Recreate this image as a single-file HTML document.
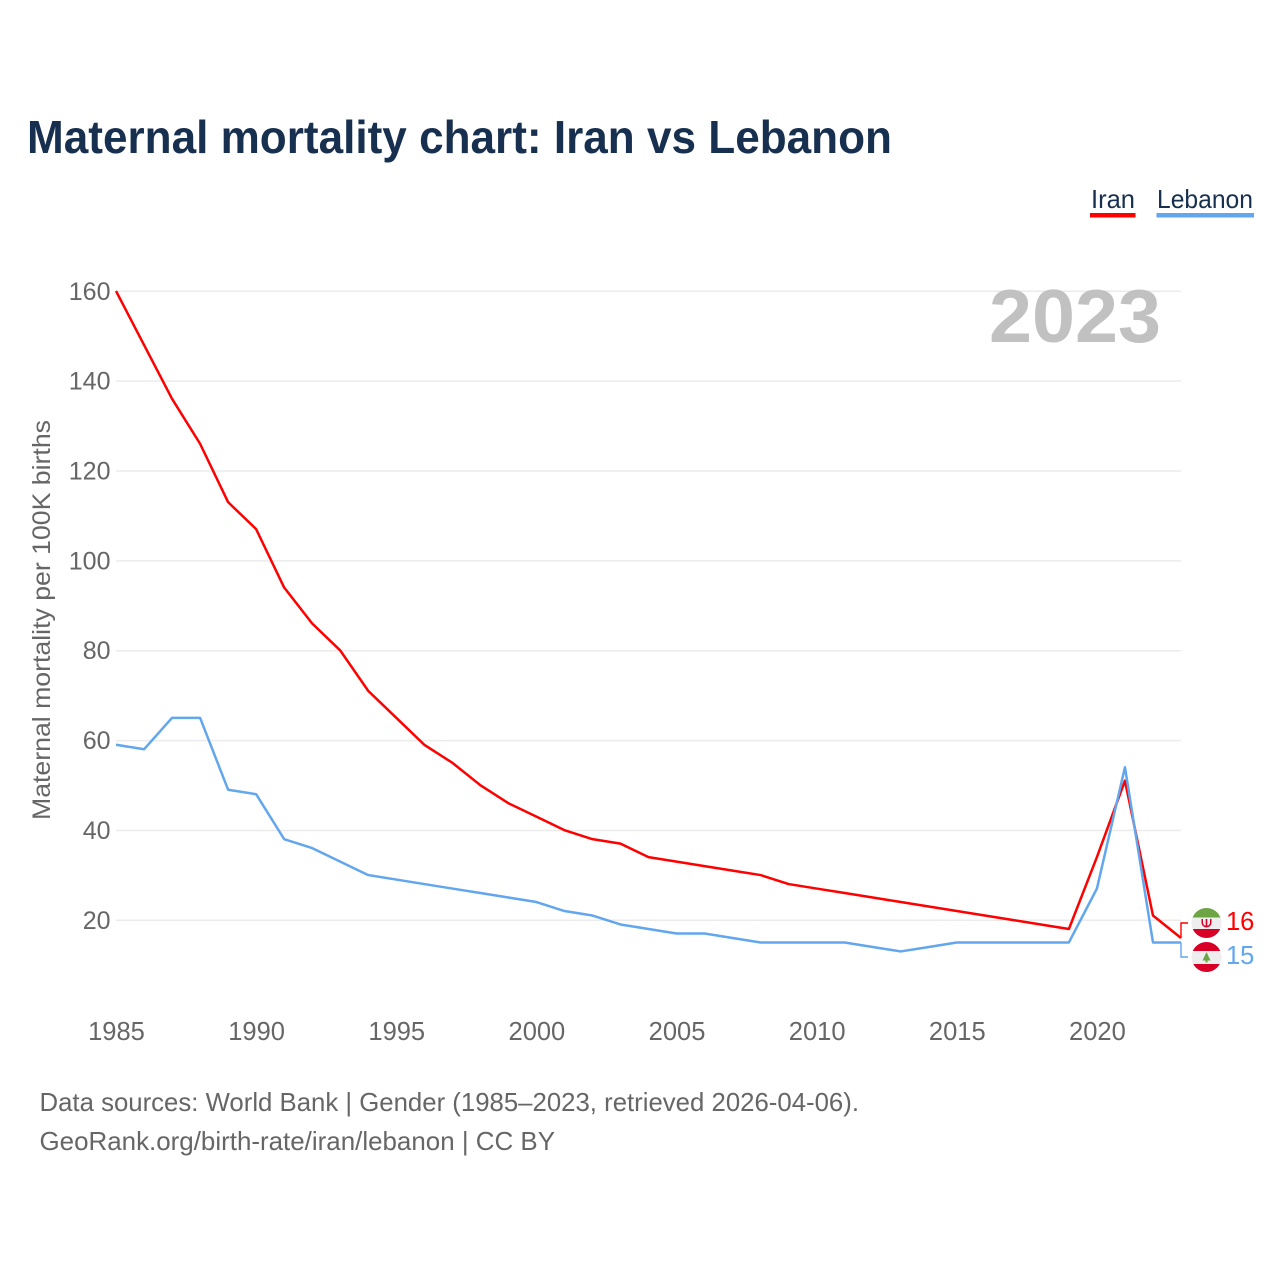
<!DOCTYPE html>
<html lang="en">
<head>
<meta charset="utf-8">
<title>Maternal mortality chart: Iran vs Lebanon</title>
<style>
html,body{margin:0;padding:0;background:#fff;width:1280px;height:1280px;overflow:hidden}
svg{display:block}
text{font-family:"Liberation Sans",sans-serif}
</style>
</head>
<body>
<svg id="chart" xmlns="http://www.w3.org/2000/svg" width="1280" height="1280" viewBox="0 0 1280 1280">
  <rect width="1280" height="1280" fill="#fff"/>
  <text x="27" y="153" font-size="46" font-weight="700" fill="#18304f" textLength="865" lengthAdjust="spacingAndGlyphs">Maternal mortality chart: Iran vs Lebanon</text>

  <g>
    <text x="1091" y="208" font-size="26" fill="#18304f" textLength="44" lengthAdjust="spacingAndGlyphs">Iran</text>
    <rect x="1090" y="213" width="45.5" height="4.5" fill="#ff0000"/>
  </g>
  <g>
    <text x="1157" y="208" font-size="26" fill="#18304f" textLength="96" lengthAdjust="spacingAndGlyphs">Lebanon</text>
    <rect x="1156.500" y="213" width="97.500" height="4.500" fill="#62a6ee"/>
  </g>

  <g id="grid"></g>
  <g id="yticks"></g>
  <g id="xticks"></g>

  <text transform="translate(50,620) rotate(-90)" text-anchor="middle" font-size="25" fill="#666" textLength="400" lengthAdjust="spacingAndGlyphs">Maternal mortality per 100K births</text>

  <text x="989" y="342" font-size="75" font-weight="700" fill="#c1c1c1" textLength="172" lengthAdjust="spacingAndGlyphs">2023</text>

  <g id="series"></g>

  <g id="endmarks"></g>

  <clipPath id="clip-iran"><circle cx="1206.500" cy="923" r="15"/></clipPath>
  <clipPath id="clip-lebanon"><circle cx="1206.500" cy="957" r="15"/></clipPath>
  <g clip-path="url(#clip-iran)">
    <rect x="1191" y="908" width="31" height="9.500" fill="#6da544"/>
    <rect x="1191" y="917.500" width="31" height="11.500" fill="#eeeeee"/>
    <rect x="1191" y="929" width="31" height="9" fill="#d80027"/>
    <path d="M1201.500 919v3.500a5 5 0 0 0 10 0v-3.500h-1.500v3.500a3.500 3.500 0 0 1-2.700 3.300v-6.800h-1.600v6.800a3.500 3.500 0 0 1-2.700-3.300v-3.500z" fill="#d80027"/>
  </g>
  <g clip-path="url(#clip-lebanon)">
    <rect x="1191" y="942" width="31" height="31" fill="#eeeeee"/>
    <rect x="1191" y="942" width="31" height="9" fill="#d80027"/>
    <rect x="1191" y="964" width="31" height="9" fill="#d80027"/>
    <path d="M1206.500 952l4 8.500h-3v2h-2v-2h-3z" fill="#6da544"/>
  </g>

  <text x="39.500" y="1111" font-size="26" fill="#666" textLength="819.500" lengthAdjust="spacingAndGlyphs">Data sources: World Bank | Gender (1985–2023, retrieved 2026-04-06).</text>
  <text x="39.500" y="1150" font-size="26" fill="#666" textLength="515.500" lengthAdjust="spacingAndGlyphs">GeoRank.org/birth-rate/iran/lebanon | CC BY</text>
</svg>
<script>
const years = [1985,1986,1987,1988,1989,1990,1991,1992,1993,1994,1995,1996,1997,1998,1999,2000,2001,2002,2003,2004,2005,2006,2007,2008,2009,2010,2011,2012,2013,2014,2015,2016,2017,2018,2019,2020,2021,2022,2023];
const iranValues = [160,148,136,126,113,107,94,86,80,71,65,59,55,50,46,43,40,38,37,34,33,32,31,30,28,27,26,25,24,23,22,21,20,19,18,34,51,21,16];
const lebanonValues = [59,58,65,65,49,48,38,36,33,30,29,28,27,26,25,24,22,21,19,18,17,17,16,15,15,15,15,14,13,14,15,15,15,15,15,27,54,15,15];
const yTicks = [20,40,60,80,100,120,140,160];
const xTicks = [1985,1990,1995,2000,2005,2010,2015,2020];

const SVGNS = 'http://www.w3.org/2000/svg';
function xScale(year) { return 116 + (year - 1985) * (1181 - 116) / (2023 - 1985); }
function yScale(value) { return 920 - (value - 20) * (920 - 291) / (160 - 20); }
function make(tag, attrs, parent) {
  const el = document.createElementNS(SVGNS, tag);
  for (const k in attrs) el.setAttribute(k, attrs[k]);
  parent.appendChild(el);
  return el;
}

const gridGroup = document.getElementById('grid');
const yGroup = document.getElementById('yticks');
yTicks.forEach(function (v) {
  const line = make('line', {x1: 116, x2: 1181, y1: yScale(v) + 0.3, y2: yScale(v) + 0.3, stroke: '#ebebeb', 'stroke-width': 1.5}, gridGroup);
  
  
  const label = make('text', {x: 110.5, y: yScale(v) + 8.8, 'text-anchor': 'end', 'font-size': 25, fill: '#666'}, yGroup);
  
  
  label.textContent = v;
});

const xGroup = document.getElementById('xticks');
xTicks.forEach(function (y) {
  const label = make('text', {x: xScale(y) + 0.5, y: 1040, 'text-anchor': 'middle', 'font-size': 25.5, fill: '#666'}, xGroup);
  
  
  label.textContent = y;
});

const seriesGroup = document.getElementById('series');
function pathFor(values) {
  return values.map(function (v, i) { return (i ? 'L' : 'M') + xScale(years[i]).toFixed(2) + ' ' + yScale(v).toFixed(2); }).join('');
}
const iranLine = make('path', {d: pathFor(iranValues), fill: 'none', stroke: '#ff0000', 'stroke-width': 2.5, 'stroke-linejoin': 'round'}, seriesGroup);


const lebanonLine = make('path', {d: pathFor(lebanonValues), fill: 'none', stroke: '#62a6ee', 'stroke-width': 2.5, 'stroke-linejoin': 'round'}, seriesGroup);



const endGroup = document.getElementById('endmarks');
const lastIran = iranValues[iranValues.length - 1];
const lastLebanon = lebanonValues[lebanonValues.length - 1];
const endX = xScale(years[years.length - 1]);

const iranConnector = make('path', {d: 'M' + endX + ' ' + yScale(lastIran) + 'V923H1188', fill: 'none', stroke: '#ff0000', 'stroke-width': 1.4}, endGroup);


const lebanonConnector = make('path', {d: 'M' + endX + ' ' + yScale(lastLebanon) + 'V957H1188', fill: 'none', stroke: '#62a6ee', 'stroke-width': 1.4}, endGroup);



const iranEnd = make('text', {x: 1226, y: 930, 'font-size': 25.5, fill: '#ff0000'}, endGroup);


iranEnd.textContent = lastIran;
const lebanonEnd = make('text', {x: 1226, y: 964, 'font-size': 25.5, fill: '#62a6ee'}, endGroup);


lebanonEnd.textContent = lastLebanon;
</script>
</body>
</html>
